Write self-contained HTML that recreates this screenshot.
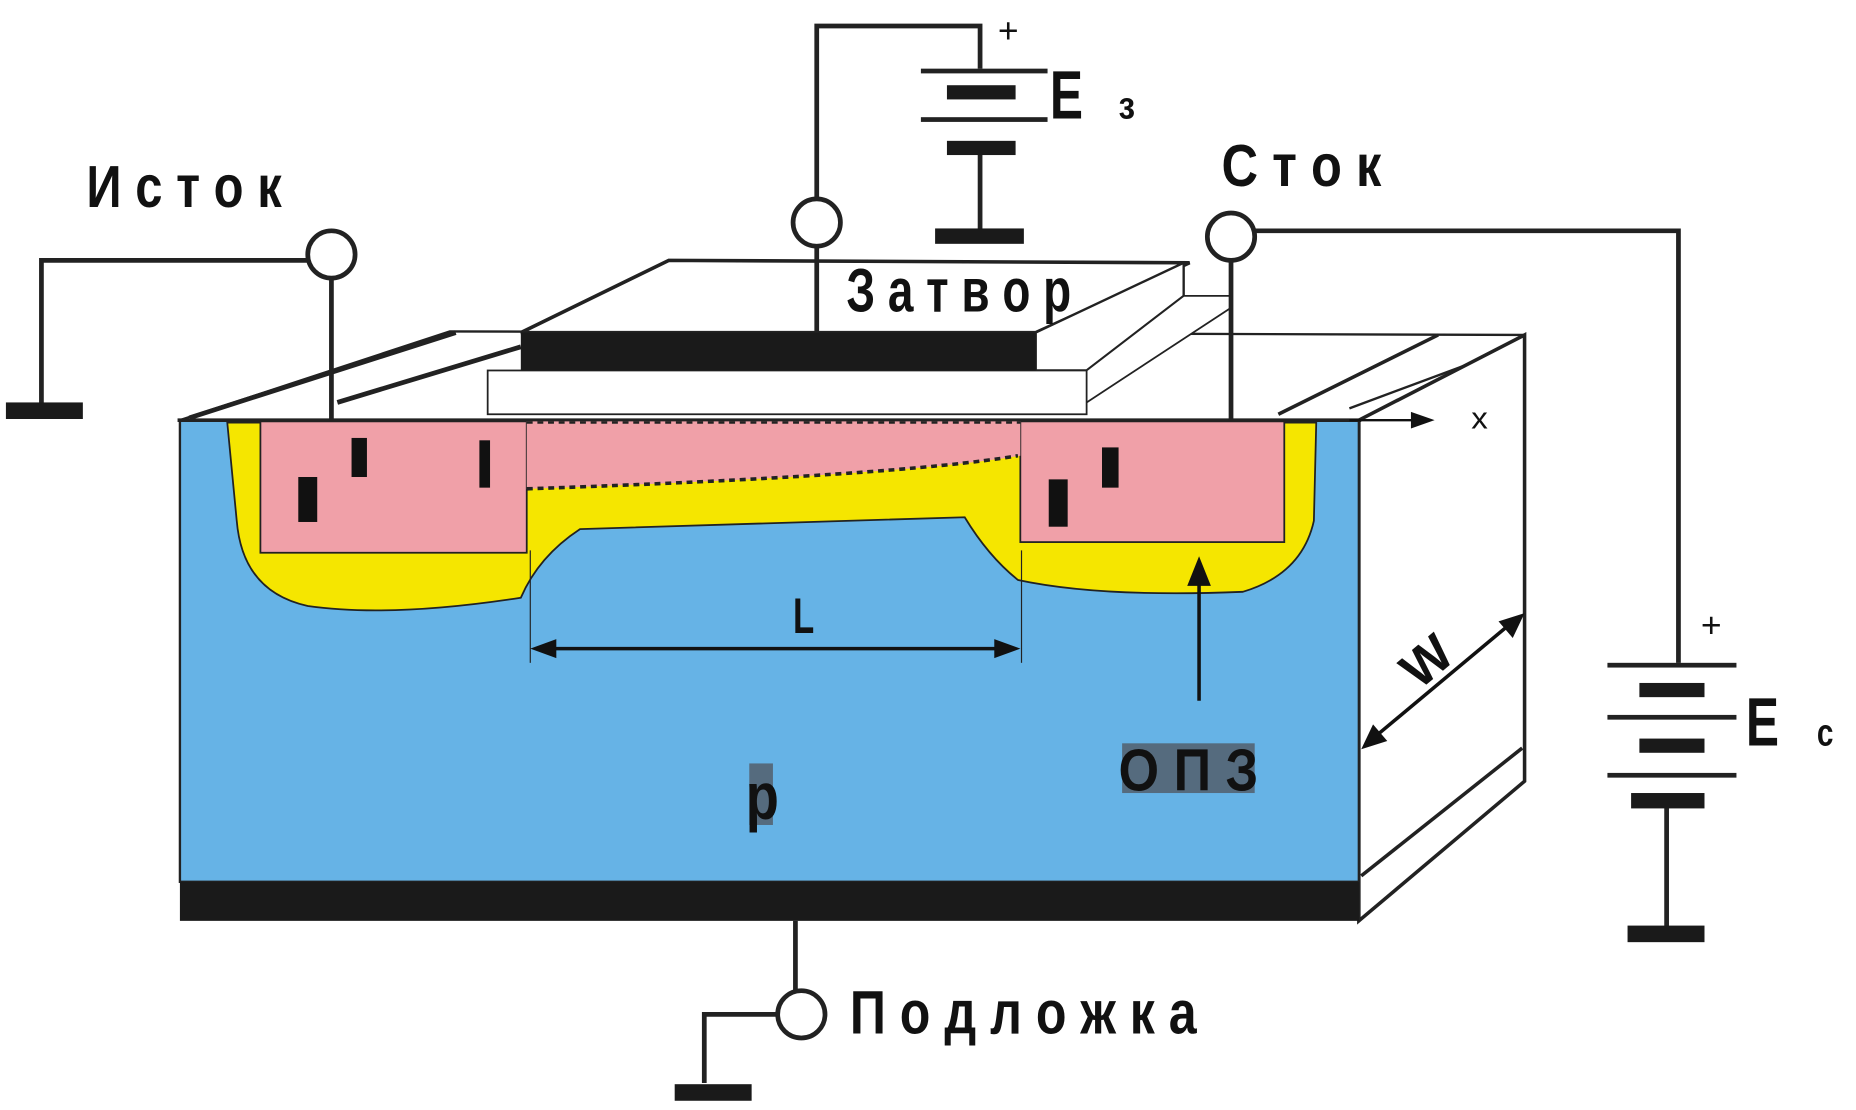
<!DOCTYPE html>
<html><head><meta charset="utf-8"><style>html,body{margin:0;padding:0;background:#fff;}svg{display:block}</style></head>
<body>
<svg width="1856" height="1110" viewBox="0 0 1568 937.8" preserveAspectRatio="none" xmlns="http://www.w3.org/2000/svg">
<g font-family="Liberation Sans, sans-serif" font-weight="bold" fill="#111">
<polygon points="152,355 380,280 1288,283 1148,355" fill="#fff" stroke="#222" stroke-width="2"/>
<line x1="160" y1="353" x2="385" y2="281" stroke="#222" stroke-width="4"/>
<line x1="285" y1="340" x2="440" y2="293" stroke="#222" stroke-width="4"/>
<line x1="1080" y1="350" x2="1215" y2="283" stroke="#222" stroke-width="3"/>
<line x1="1140" y1="345" x2="1288" y2="290" stroke="#222" stroke-width="2"/>
<polygon points="1148,355 1288,283 1288,660 1148,778" fill="#fff" stroke="#222" stroke-width="3"/>
<line x1="1150" y1="740" x2="1286" y2="632" stroke="#222" stroke-width="3"/>
<polygon points="440,281 565,220 1005,222 875,281" fill="#fff" stroke="#222" stroke-width="3"/>
<polygon points="875,281 1000,222 1000,250 918,313 875,313" fill="#fff" stroke="#222" stroke-width="2"/>
<polygon points="918,313 1000,250 1040,250 1040,260 918,340" fill="#fff" stroke="#222" stroke-width="1.5"/>
<rect x="412" y="313" width="506" height="37" fill="#fff" stroke="#222" stroke-width="1.5"/>
<rect x="440" y="281" width="435" height="32" fill="#1a1a1a"/>
<rect x="152" y="355" width="996" height="390" fill="#66b3e6" stroke="#222" stroke-width="2"/>
<rect x="152" y="745" width="996" height="33" fill="#1a1a1a"/>
<line x1="150" y1="355" x2="1150" y2="355" stroke="#222" stroke-width="3"/>
<path d="M192,357 L200,440 Q205,500 260,512 Q330,522 440,505 Q455,470 490,447 L815,437 Q835,470 860,490 Q930,505 1050,500 Q1100,485 1110,440 L1112,357 Z" fill="#f5e600" stroke="#222" stroke-width="1.5"/>
<rect x="220" y="356" width="225" height="111" fill="#f0a0a8" stroke="#222" stroke-width="1.5"/>
<rect x="862" y="356" width="223" height="102" fill="#f0a0a8" stroke="#222" stroke-width="1.5"/>
<path d="M445,356 L862,356 L862,385 Q760,402 445,413 Z" fill="#f0a0a8"/>
<path d="M445,413 Q760,402 860,385" fill="none" stroke="#222" stroke-width="3" stroke-dasharray="5,4"/>
<line x1="445" y1="357" x2="862" y2="357" stroke="#222" stroke-width="2" stroke-dasharray="5,4"/>
<rect x="297" y="370" width="13" height="33" fill="#111"/>
<rect x="252" y="403" width="16" height="38" fill="#111"/>
<rect x="405" y="372" width="9" height="40" fill="#111"/>
<rect x="886" y="405" width="16" height="40" fill="#111"/>
<rect x="931" y="378" width="14" height="34" fill="#111"/>
<line x1="448" y1="465" x2="448" y2="560" stroke="#222" stroke-width="1"/>
<line x1="863" y1="465" x2="863" y2="560" stroke="#222" stroke-width="1"/>
<line x1="460" y1="548" x2="852" y2="548" stroke="#111" stroke-width="3"/>
<polygon points="448,548 470,540 470,556" fill="#111"/><polygon points="862,548 840,540 840,556" fill="#111"/>
<text x="670" y="535" font-size="42" transform="translate(670,0) scale(0.7,1) translate(-670,0)">L</text>
<line x1="1013" y1="592" x2="1013" y2="490" stroke="#111" stroke-width="3"/>
<polygon points="1013,470 1003,495 1023,495" fill="#111"/>
<rect x="948" y="628" width="112" height="42" fill="#556b7e"/>
<text x="945" y="668" font-size="50" textLength="118" lengthAdjust="spacingAndGlyphs">О П З</text>
<rect x="633" y="645" width="20" height="52" fill="#556b7e"/>
<text x="630" y="692" font-size="56" textLength="28" lengthAdjust="spacingAndGlyphs">p</text>
<line x1="1155" y1="628" x2="1282" y2="522" stroke="#111" stroke-width="3"/>
<polygon points="1150,633 1160,612 1172,626" fill="#111"/><polygon points="1288,518 1278,539 1266,525" fill="#111"/>
<text x="1185" y="585" font-size="44" transform="rotate(-40 1190 565)">W</text>
<line x1="1140" y1="355" x2="1200" y2="355" stroke="#111" stroke-width="2"/>
<polygon points="1212,355 1192,348 1192,362" fill="#111"/>
<text x="1243" y="362" font-size="26" font-weight="normal" textLength="14" lengthAdjust="spacingAndGlyphs">x</text>
<g stroke="#222" stroke-width="4" fill="none">
<line x1="280" y1="235" x2="280" y2="355"/>
<polyline points="260,220 35,220 35,345"/>
<circle cx="280" cy="215" r="20" fill="#fff"/>
<line x1="690" y1="208" x2="690" y2="281"/>
<polyline points="690,168 690,22 828,22 828,58"/>
<circle cx="690" cy="188" r="20" fill="#fff"/>
<line x1="828" y1="128" x2="828" y2="195"/>
<line x1="1040" y1="220" x2="1040" y2="355"/>
<polyline points="1060,195 1418,195 1418,560"/>
<circle cx="1040" cy="200" r="20" fill="#fff"/>
<line x1="1408" y1="678" x2="1408" y2="785"/>
<line x1="672" y1="778" x2="672" y2="840"/>
<polyline points="657,857 595,857 595,915"/>
<circle cx="677" cy="857" r="20" fill="#fff"/>
</g>
<rect x="5" y="340" width="65" height="14" fill="#1a1a1a"/>
<rect x="778" y="58" width="107" height="4" fill="#222"/>
<rect x="800" y="72" width="58" height="12" fill="#1a1a1a"/>
<rect x="778" y="99" width="107" height="4" fill="#222"/>
<rect x="800" y="119" width="58" height="12" fill="#1a1a1a"/>
<rect x="790" y="193" width="75" height="13" fill="#1a1a1a"/>
<text x="843" y="36" font-size="30" font-weight="normal">+</text>
<text x="887" y="100" font-size="58" textLength="28" lengthAdjust="spacingAndGlyphs">E</text>
<text x="945" y="100" font-size="32" textLength="14" lengthAdjust="spacingAndGlyphs">з</text>
<rect x="1358" y="560" width="109" height="4" fill="#222"/>
<rect x="1385" y="577" width="55" height="12" fill="#1a1a1a"/>
<rect x="1358" y="604" width="109" height="4" fill="#222"/>
<rect x="1385" y="624" width="55" height="12" fill="#1a1a1a"/>
<rect x="1358" y="653" width="109" height="4" fill="#222"/>
<rect x="1378" y="670" width="62" height="13" fill="#1a1a1a"/>
<rect x="1375" y="782" width="65" height="14" fill="#1a1a1a"/>
<text x="1437" y="538" font-size="30" font-weight="normal">+</text>
<text x="1475" y="630" font-size="58" textLength="28" lengthAdjust="spacingAndGlyphs">E</text>
<text x="1535" y="630" font-size="32" textLength="14" lengthAdjust="spacingAndGlyphs">с</text>
<rect x="570" y="916" width="65" height="14" fill="#1a1a1a"/>
<text x="73" y="175" font-size="50" textLength="165" lengthAdjust="spacingAndGlyphs">И с т о к</text>
<text x="1032" y="157" font-size="50" textLength="135" lengthAdjust="spacingAndGlyphs">С т о к</text>
<text x="715" y="263" font-size="52" textLength="190" lengthAdjust="spacingAndGlyphs">З а т в о р</text>
<text x="718" y="873" font-size="52" textLength="293" lengthAdjust="spacingAndGlyphs">П о д л о ж к а</text>
</g>
</svg>
</body></html>
